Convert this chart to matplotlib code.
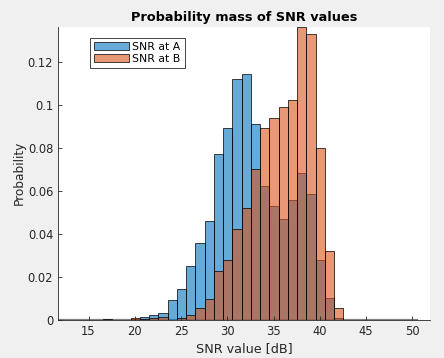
import numpy as np
import matplotlib
matplotlib.use("Agg")
import matplotlib.pyplot as plt
from matplotlib.ticker import FormatStrFormatter

## Donnees ##
edges = np.arange(11.55, 50.56, 1.0)                                            # bords des classes [dB]
snr_A = [0, 0, 0, 0, 0, 0.0005, 0, 0, 0.0005, 0.0014,
         0.0024, 0.0031, 0.0091, 0.0146, 0.0253, 0.0356, 0.0461, 0.0771, 0.0891, 0.1121,
         0.1141, 0.0911, 0.0624, 0.0528, 0.0469, 0.0556, 0.0683, 0.0584, 0.0281, 0.0102,
         0.0010, 0, 0, 0, 0, 0, 0, 0, 0]
snr_B = [0, 0, 0, 0, 0, 0, 0, 0, 0.0008, 0.0004,
         0.0009, 0.0013, 0.0002, 0.0010, 0.0024, 0.0057, 0.0099, 0.0227, 0.0281, 0.0421,
         0.0522, 0.0700, 0.0891, 0.0938, 0.0987, 0.1023, 0.1362, 0.1328, 0.0801, 0.0322,
         0.0056, 0, 0, 0, 0, 0, 0, 0, 0]
labels = ["SNR at A", "SNR at B"]
xticks = [15, 20, 25, 30, 35, 40, 45, 50]
yticks = [0, 0.02, 0.04, 0.06, 0.08, 0.1, 0.12]

col_A = (0.0, 0.447, 0.741, 0.6)
col_B = (0.85, 0.325, 0.098, 0.6)
axcol = "#262626"

## Visualisation ##
fig = plt.figure(figsize=(4.44, 3.58), dpi=100, facecolor="#f0f0f0")
ax = fig.add_axes([0.1306, 0.1061, 0.8379, 0.8193])

# ligne de base grise (classes vides)
ax.plot([edges[0], edges[-1]], [0, 0], color="#808080", lw=1.6, zorder=0.5,
        solid_capstyle="butt")

ax.bar(edges[:-1], snr_A, width=1.0, align="edge", facecolor=col_A,
       edgecolor=(0, 0, 0, 0.85), linewidth=0.6, label=labels[0])
ax.bar(edges[:-1], snr_B, width=1.0, align="edge", facecolor=col_B,
       edgecolor=(0, 0, 0, 0.85), linewidth=0.6, label=labels[1])

ax.set_xlim(11.7, 51.9)
ax.set_ylim(0, max(snr_B))
ax.set_xticks(xticks)
ax.set_yticks(yticks)
ax.yaxis.set_major_formatter(FormatStrFormatter("%g"))
ax.tick_params(direction="in", length=3, width=0.6, labelsize=8.3, colors=axcol)

for s in ["top", "right"]:
    ax.spines[s].set_visible(False)
for s in ["left", "bottom"]:
    ax.spines[s].set_color(axcol)
    ax.spines[s].set_linewidth(0.6)

ax.set_title("Probability mass of SNR values", fontsize=9.3, fontweight="bold", pad=4)
ax.set_xlabel("SNR value [dB]", fontsize=9.2, color=axcol, labelpad=3)
ax.set_ylabel("Probability", fontsize=8.7, color=axcol, labelpad=1)

leg = ax.legend(loc="upper left", bbox_to_anchor=(0.086, 0.9625), borderaxespad=0,
                fontsize=7.8, fancybox=False, framealpha=1, edgecolor=axcol,
                handlelength=3.2, handleheight=0.8, handletextpad=0.3,
                borderpad=0.4, labelspacing=0.15)
leg.get_frame().set_linewidth(0.6)

fig.savefig("out.png", dpi=100, facecolor=fig.get_facecolor())
